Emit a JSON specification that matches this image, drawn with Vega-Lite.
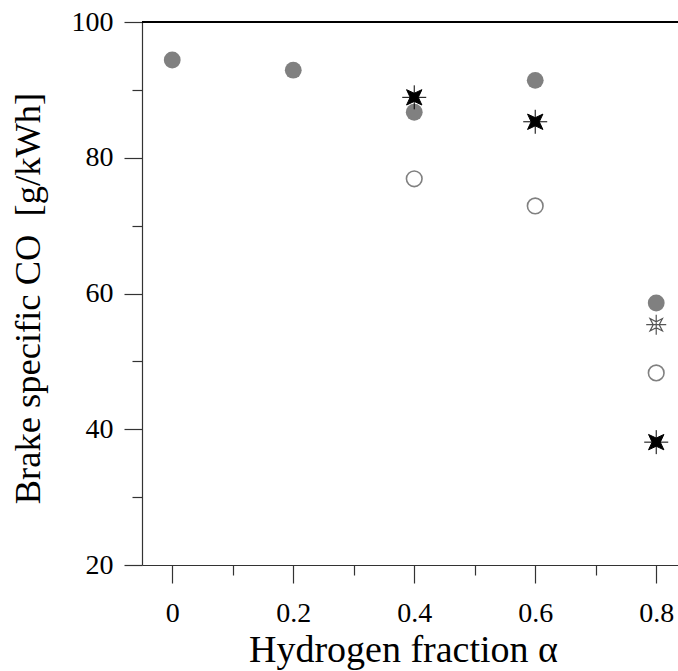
{
  "$schema": "https://vega.github.io/schema/vega-lite/v6.json",
  "autosize": "none",
  "width": 536,
  "height": 543,
  "padding": {"left": 142, "top": 22, "right": 0, "bottom": 106},
  "background": "white",
  "config": {
    "view": {"stroke": null},
    "axis": {
      "grid": false,
      "labelFont": "Liberation Serif",
      "titleFont": "Liberation Serif",
      "labelColor": "black",
      "titleColor": "black",
      "titleFontWeight": "normal",
      "domainColor": "#333",
      "tickColor": "#333",
      "domainWidth": 1.2,
      "tickWidth": 1.2
    }
  },
  "data": {
    "values": [
      {"alpha": 0, "co": 94.4, "series": "gray"},
      {"alpha": 0.2, "co": 92.9, "series": "gray"},
      {"alpha": 0.4, "co": 86.7, "series": "gray"},
      {"alpha": 0.6, "co": 91.4, "series": "gray"},
      {"alpha": 0.8, "co": 58.6, "series": "gray"},
      {"alpha": 0.4, "co": 76.9, "series": "open"},
      {"alpha": 0.6, "co": 72.9, "series": "open"},
      {"alpha": 0.8, "co": 48.3, "series": "open"},
      {"alpha": 0.4, "co": 88.9, "series": "star"},
      {"alpha": 0.6, "co": 85.3, "series": "star"},
      {"alpha": 0.8, "co": 38.1, "series": "star"},
      {"alpha": 0.8, "co": 55.4, "series": "openstar"}
    ]
  },
  "resolve": {"axis": {"x": "independent", "y": "independent"}},
  "layer": [
    {
      "transform": [{"filter": "datum.series === 'gray'"}],
      "mark": {"type": "point", "shape": "circle", "filled": true, "color": "#808080", "opacity": 1, "size": 283, "strokeWidth": 0},
      "encoding": {
        "x": {
          "field": "alpha", "type": "quantitative",
          "scale": {"domain": [-0.05, 0.836], "nice": false, "zero": false},
          "axis": {
            "orient": "bottom",
            "values": [0, 0.2, 0.4, 0.6, 0.8],
            "labelExpr": "datum.value == 0 ? '0' : format(datum.value, '.1f')",
            "tickSize": 18, "labelPadding": 16, "labelFontSize": 28, "labelFlush": false,
            "title": "Hydrogen fraction α", "titleFontSize": 38, "titlePadding": 4,
            "titleX": 261, "titleAlign": "center"
          }
        },
        "y": {
          "field": "co", "type": "quantitative",
          "scale": {"domain": [20, 100], "nice": false, "zero": false},
          "axis": {
            "orient": "left",
            "values": [20, 40, 60, 80, 100],
            "tickSize": 18, "labelPadding": 11, "labelFontSize": 28,
            "title": "Brake specific CO\u00a0 [g/kWh]", "titleFontSize": 36.5, "titlePadding": 24,
            "titleY": 276
          }
        }
      }
    },
    {
      "transform": [{"filter": "datum.series === 'open'"}],
      "mark": {"type": "point", "shape": "circle", "filled": false, "stroke": "#808080", "strokeWidth": 1.6, "opacity": 1, "size": 243},
      "encoding": {
        "x": {
          "field": "alpha", "type": "quantitative",
          "axis": {"orient": "bottom", "values": [0.1, 0.3, 0.5, 0.7], "tickSize": 10, "labels": false, "domain": false, "title": null}
        },
        "y": {
          "field": "co", "type": "quantitative",
          "axis": {"orient": "left", "values": [30, 50, 70, 90], "tickSize": 10, "labels": false, "domain": false, "title": null}
        }
      }
    },
    {
      "transform": [{"filter": "datum.series === 'openstar'"}],
      "mark": {"type": "point", "shape": "M-0.62,-0.62L0,-0.3L0.62,-0.62L0.3,0L0.62,0.62L0,0.3L-0.62,0.62L-0.3,0ZM0,-1L0,1M-1,0L1,0", "filled": true, "fill": "white", "stroke": "#555555", "strokeWidth": 1.2, "opacity": 1, "size": 400},
      "encoding": {
        "x": {"field": "alpha", "type": "quantitative", "axis": null},
        "y": {"field": "co", "type": "quantitative", "axis": null}
      }
    },
    {
      "transform": [{"filter": "datum.series === 'star'"}],
      "mark": {"type": "point", "shape": "M-0.64,-0.64L0,-0.34L0.64,-0.64L0.34,0L0.64,0.64L0,0.34L-0.64,0.64L-0.34,0ZM0,-1L0,1M-1,0L1,0", "filled": true, "fill": "black", "stroke": "black", "strokeWidth": 1, "opacity": 1, "size": 576},
      "encoding": {
        "x": {"field": "alpha", "type": "quantitative", "axis": null},
        "y": {"field": "co", "type": "quantitative", "axis": null}
      }
    },
    {
      "mark": {"type": "rule", "color": "black", "strokeWidth": 2},
      "encoding": {
        "y": {"datum": 100, "type": "quantitative", "axis": null}
      }
    }
  ]
}
